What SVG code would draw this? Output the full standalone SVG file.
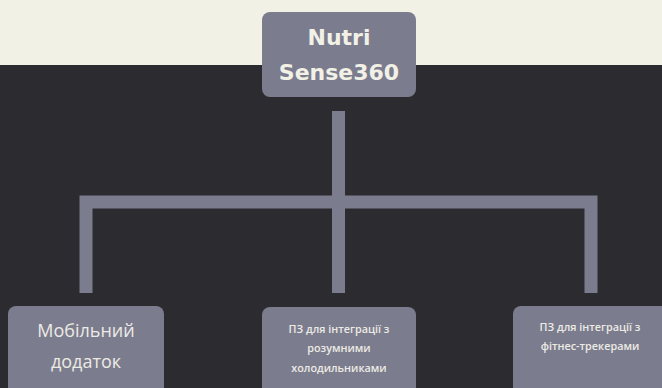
<svg xmlns="http://www.w3.org/2000/svg" width="662" height="388" viewBox="0 0 662 388">
  <style>
    .node { fill: #7c7c8f; }
    .title { font-family: "DejaVu Sans", sans-serif; font-weight: bold; font-size: 22px; fill: #f2f1e6; text-anchor: middle; }
    .big { font-family: "Open Sans", sans-serif; font-weight: 500; font-size: 18px; fill: #ecebe3; text-anchor: middle; }
    .small { font-family: "Open Sans", sans-serif; font-weight: 600; font-size: 10.8px; fill: #ecebe3; text-anchor: middle; }
    .conn { fill: none; stroke: #7c7c8f; stroke-width: 13; }
  </style>
  <rect x="0" y="0" width="662" height="65" fill="#f2f1e6"/>
  <rect x="0" y="65" width="662" height="323" fill="#2c2b30"/>
  <g id="connectors">
    <path class="conn" d="M338.5 111 V293"/>
    <path class="conn" d="M86 293 V202 H591 V293"/>
  </g>
  <g id="root">
    <rect class="node" x="262" y="12" width="154" height="85" rx="8"/>
    <text class="title" x="339" y="45">Nutri</text>
    <text class="title" x="339" y="80">Sense360</text>
  </g>
  <g id="mobile">
    <rect class="node" x="8" y="306" width="156" height="95" rx="8"/>
    <text class="big" x="86" y="337">Мобільний</text>
    <text class="big" x="86" y="368">додаток</text>
  </g>
  <g id="fridge">
    <rect class="node" x="262" y="307" width="154" height="95" rx="8"/>
    <text class="small" x="339" y="333">ПЗ для інтеграції з</text>
    <text class="small" x="339" y="352">розумними</text>
    <text class="small" x="339" y="372">холодильниками</text>
  </g>
  <g id="fitness">
    <rect class="node" x="513" y="306" width="156" height="95" rx="8"/>
    <text class="small" x="590" y="331">ПЗ для інтеграції з</text>
    <text class="small" x="590" y="350">фітнес-трекерами</text>
  </g>
</svg>
